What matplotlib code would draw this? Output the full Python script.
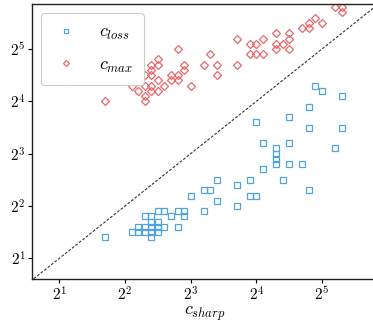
import matplotlib
matplotlib.use("Agg")
import matplotlib.pyplot as plt
import numpy as np

plt.rcParams['mathtext.fontset'] = 'cm'
plt.rcParams['font.family'] = ['DejaVu Serif']

# log2 of c_sharp and c_loss (blue squares)
loss_sharp_log2 = [1.7, 2.1, 2.2, 2.2, 2.3, 2.3, 2.3, 2.4, 2.4, 2.4, 2.4, 2.4,
                   2.5, 2.5, 2.5, 2.5, 2.6, 2.6, 2.7, 2.8, 2.8, 2.9, 2.9,
                   3.0, 3.2, 3.2, 3.3, 3.4, 3.4, 3.7, 3.7, 3.9, 3.9, 4.0, 4.0,
                   4.1, 4.1, 4.3, 4.3, 4.3, 4.3, 4.4, 4.5, 4.5, 4.5, 4.7,
                   4.8, 4.8, 4.8, 4.9, 5.0, 5.2, 5.3, 5.3]
loss_log2 = [1.4, 1.5, 1.5, 1.6, 1.8, 1.6, 1.5, 1.8, 1.7, 1.6, 1.5, 1.4,
             1.9, 1.7, 1.6, 1.5, 1.9, 1.6, 1.8, 1.9, 1.6, 1.9, 1.8,
             2.2, 2.3, 1.9, 2.3, 2.5, 2.1, 2.4, 2.0, 2.5, 2.2, 3.6, 2.2,
             3.2, 2.7, 3.1, 3.0, 2.9, 2.8, 2.5, 3.7, 3.2, 2.8, 2.8,
             3.9, 3.5, 2.3, 4.3, 4.2, 3.1, 4.1, 3.5]

# log2 of c_sharp and c_max (red diamonds)
max_sharp_log2 = [1.7, 2.1, 2.1, 2.2, 2.3, 2.3, 2.3, 2.3, 2.4, 2.4, 2.4, 2.4, 2.4,
                  2.5, 2.5, 2.5, 2.5, 2.6, 2.7, 2.7, 2.8, 2.8, 2.8, 2.9, 2.9,
                  3.0, 3.2, 3.3, 3.4, 3.4, 3.7, 3.7, 3.9, 3.9, 4.0, 4.0, 4.1, 4.1,
                  4.3, 4.3, 4.3, 4.4, 4.5, 4.5, 4.5, 4.7, 4.8, 4.8, 4.9, 5.0,
                  5.2, 5.3, 5.3]
max_log2 = [4.0, 4.4, 4.3, 4.2, 4.5, 4.3, 4.1, 4.0, 4.7, 4.6, 4.5, 4.3, 4.2,
            4.8, 4.7, 4.4, 4.2, 4.3, 4.5, 4.4, 5.0, 4.5, 4.4, 4.7, 4.6,
            4.3, 4.7, 4.9, 4.7, 4.5, 5.2, 4.7, 5.1, 4.9, 5.1, 4.9, 5.2, 4.9,
            5.3, 5.1, 5.0, 5.1, 5.3, 5.2, 5.0, 5.4, 5.5, 5.4, 5.6, 5.5,
            5.8, 5.8, 5.7]

tick_vals = [2, 4, 8, 16, 32]
tick_labels = [r'$2^{1}$', r'$2^{2}$', r'$2^{3}$', r'$2^{4}$', r'$2^{5}$']

blue = '#4fa3de'
red = '#e8686a'

fig = plt.figure(figsize=(3.73, 3.22), dpi=100)
ax = fig.add_axes([0.085, 0.1326, 0.928, 0.855])

ax.plot(2.0 ** np.array(loss_sharp_log2), 2.0 ** np.array(loss_log2), 's',
        mfc='none', mec=blue, ms=4.2, mew=0.9, ls='none', label=r'$c_{loss}$')
ax.plot(2.0 ** np.array(max_sharp_log2), 2.0 ** np.array(max_log2), 'D',
        mfc='none', mec=red, ms=4.0, mew=0.9, ls='none', label=r'$c_{max}$')

ax.plot([1, 100], [1, 100], ls=(0, (2.5, 1.5)), color='#333333', lw=0.8)

ax.set_xscale('log', base=2)
ax.set_yscale('log', base=2)
ax.set_xlim(2 ** 0.58, 2 ** 5.85)
ax.set_ylim(2 ** 0.6, 2 ** 5.86)
ax.set_xticks(tick_vals)
ax.set_xticklabels(tick_labels)
ax.set_yticks(tick_vals)
ax.set_yticklabels(tick_labels)
ax.minorticks_off()
ax.tick_params(axis='both', length=3, width=0.8, labelsize=11, pad=1.5)
ax.set_xlabel(r'$c_{sharp}$', fontsize=13, labelpad=0.5)

for s in ax.spines.values():
    s.set_linewidth(1.0)
    s.set_color('#222222')

leg = ax.legend(loc='upper left', fontsize=13, markerscale=0.75,
                handlelength=1.7, handletextpad=1.0, borderpad=0.55,
                labelspacing=0.75, framealpha=1, edgecolor='#cccccc',
                borderaxespad=0.5)
leg.get_frame().set_linewidth(0.8)

fig.savefig('out.png', dpi=100)
